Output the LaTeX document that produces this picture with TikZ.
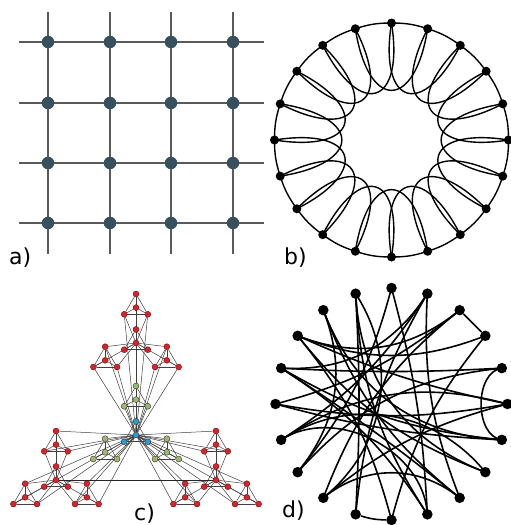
\documentclass[tikz,border=0pt]{standalone}
\usepackage{fontspec}
\setmainfont{DejaVu Sans}
\usepackage{xcolor}
\usetikzlibrary{backgrounds}

\definecolor{gridnode}{HTML}{37505E}
\definecolor{gridline}{HTML}{5A5A5A}
\definecolor{sred}{HTML}{D8232A}
\definecolor{sgreen}{HTML}{8CBF74}
\definecolor{sblue}{HTML}{1CA3D3}

\begin{document}
\begin{tikzpicture}[
    x=1pt, y=1pt,
    font=\fontsize{22}{26}\selectfont,
    panellabel/.style={inner sep=0pt, anchor=west},
    gnode/.style={circle, fill=gridnode, minimum size=12.5pt, inner sep=0pt},
    gline/.style={draw=gridline, line width=1.4pt},
    rnode/.style={circle, fill=black, minimum size=9pt, inner sep=0pt},
    redge/.style={draw=black, line width=1.4pt},
    cnode/.style={circle, draw=red!35!black, line width=0.3pt, minimum size=6pt, inner sep=0pt},
    cedge/.style={draw=black!75, line width=0.5pt},
    dnode/.style={circle, fill=black, minimum size=10.5pt, inner sep=0pt},
    dedge/.style={draw=black, line width=1.6pt}
  ]
  \useasboundingbox (0,-525) rectangle (511,0);

  % --- a) square lattice ---
  \foreach \y [count=\r] in {42,103,163,223} {
    \coordinate (hw\r) at (19,-\y);
    \coordinate (he\r) at (264,-\y);
  }
  \foreach \x [count=\c] in {48,110,171,233} {
    \coordinate (vn\c) at (\x,-12);
    \coordinate (vs\c) at (\x,-254);
  }
  \foreach \r in {1,...,4} \draw[gline] (hw\r) -- (he\r);
  \foreach \c in {1,...,4} \draw[gline] (vn\c) -- (vs\c);
  \foreach \y [count=\r] in {42,103,163,223}
    \foreach \x [count=\c] in {48,110,171,233}
      \node[gnode] (a\r\c) at (\x,-\y) {};
  \node[panellabel] (la) at (9,-258) {a)};

  % --- b) ring lattice, k=4 ---
  \begin{scope}[shift={(391.5,-140)}]
    \foreach \k in {0,...,19}
      \node[rnode] (b\k) at ({90-18*\k}:117) {};
  \end{scope}
  \begin{scope}[on background layer]
    \foreach \k in {0,...,19} {
      \pgfmathtruncatemacro\kn{mod(\k+1,20)}
      \pgfmathtruncatemacro\kk{mod(\k+2,20)}
      \draw[redge] (b\k.center) to[bend left=9] (b\kn.center);
      \draw[redge] (b\k.center) to[out={261-18*\k}, in={243-18*\k}, looseness=2.95] (b\kk.center);
    }
  \end{scope}
  \node[panellabel] (lb) at (284,-258) {b)};

  % --- c) hierarchical network, 64 nodes ---
  \foreach \i/\ax/\ay in {0/0/0, 1/0/92, 2/-80/137, 3/80/137}
    \foreach \j/\bx/\by in {0/0/0, 1/0/35.4, 2/-30.8/52.7, 3/30.8/52.7}
      \foreach \k/\cx/\cy in {0/0/0, 1/0/13.6, 2/-11.8/20.3, 3/11.8/20.3} {
        \def\ncol{sred}
        \ifnum\i=1 \def\ncol{sgreen}\fi
        \ifnum\i\j=11 \def\ncol{sblue}\fi
        \node[cnode, fill=\ncol] (c\i\j\k) at ({136+\ax+\bx+\cx},{-294-\ay-\by-\cy}) {};
      }
  \begin{scope}[on background layer]
    % modules of four
    \foreach \i in {0,...,3} \foreach \j in {0,...,3}
      \foreach \p/\q in {0/1,0/2,0/3,1/2,1/3,2/3}
        \draw[cedge] (c\i\j\p) -- (c\i\j\q);
    % modules of sixteen: outer nodes to the local hub
    \foreach \i in {0,...,3} \foreach \j in {0,2,3} \foreach \k in {0,2,3}
      \draw[cedge] (c\i11) -- (c\i\j\k);
    % whole network: peripheral nodes to the central hub
    \foreach \i in {0,2,3} \foreach \j in {0,2,3} \foreach \k in {0,2,3}
      \draw[cedge] (c111) -- (c\i\j\k);
    \draw[draw=black!85, line width=0.8pt] (c211) -- (c311);
  \end{scope}
  \node[panellabel] (lc) at (134,-514) {c)};

  % --- d) random graph on a circle ---
  \begin{scope}[shift={(391.5,-404)}]
    \foreach \k in {0,...,19}
      \node[dnode] (d\k) at ({90-18*\k}:116) {};
  \end{scope}
  \begin{scope}[on background layer]
    \foreach \p/\q/\b in {0/9/15, 0/13/-15, 1/8/15, 1/11/-12, 1/14/-15, 1/16/-15, 2/12/-15,
                          2/15/-15, 3/17/-15, 3/10/15, 4/16/-15, 4/13/-12, 4/6/-10,
                          5/17/-12, 5/12/15, 6/18/15, 6/15/15, 6/16/12, 7/19/15,
                          7/17/15, 7/14/-15, 8/18/15, 8/16/15, 9/19/15, 9/14/-15,
                          11/19/15, 12/19/-15, 13/18/15, 5/15/10, 10/17/15,
                          2/17/-15, 8/12/15, 9/16/15, 5/14/-15}
      \draw[dedge] (d\p.center) to[out={270-18*\p+\b}, in={270-18*\q-\b}] (d\q.center);
    \draw[dedge] (d2) -- (d3);
    \draw[dedge] (d10) to[bend left=8] (d11);
  \end{scope}
  \node[panellabel] (ld) at (282,-511) {d)};
\end{tikzpicture}
\end{document}
